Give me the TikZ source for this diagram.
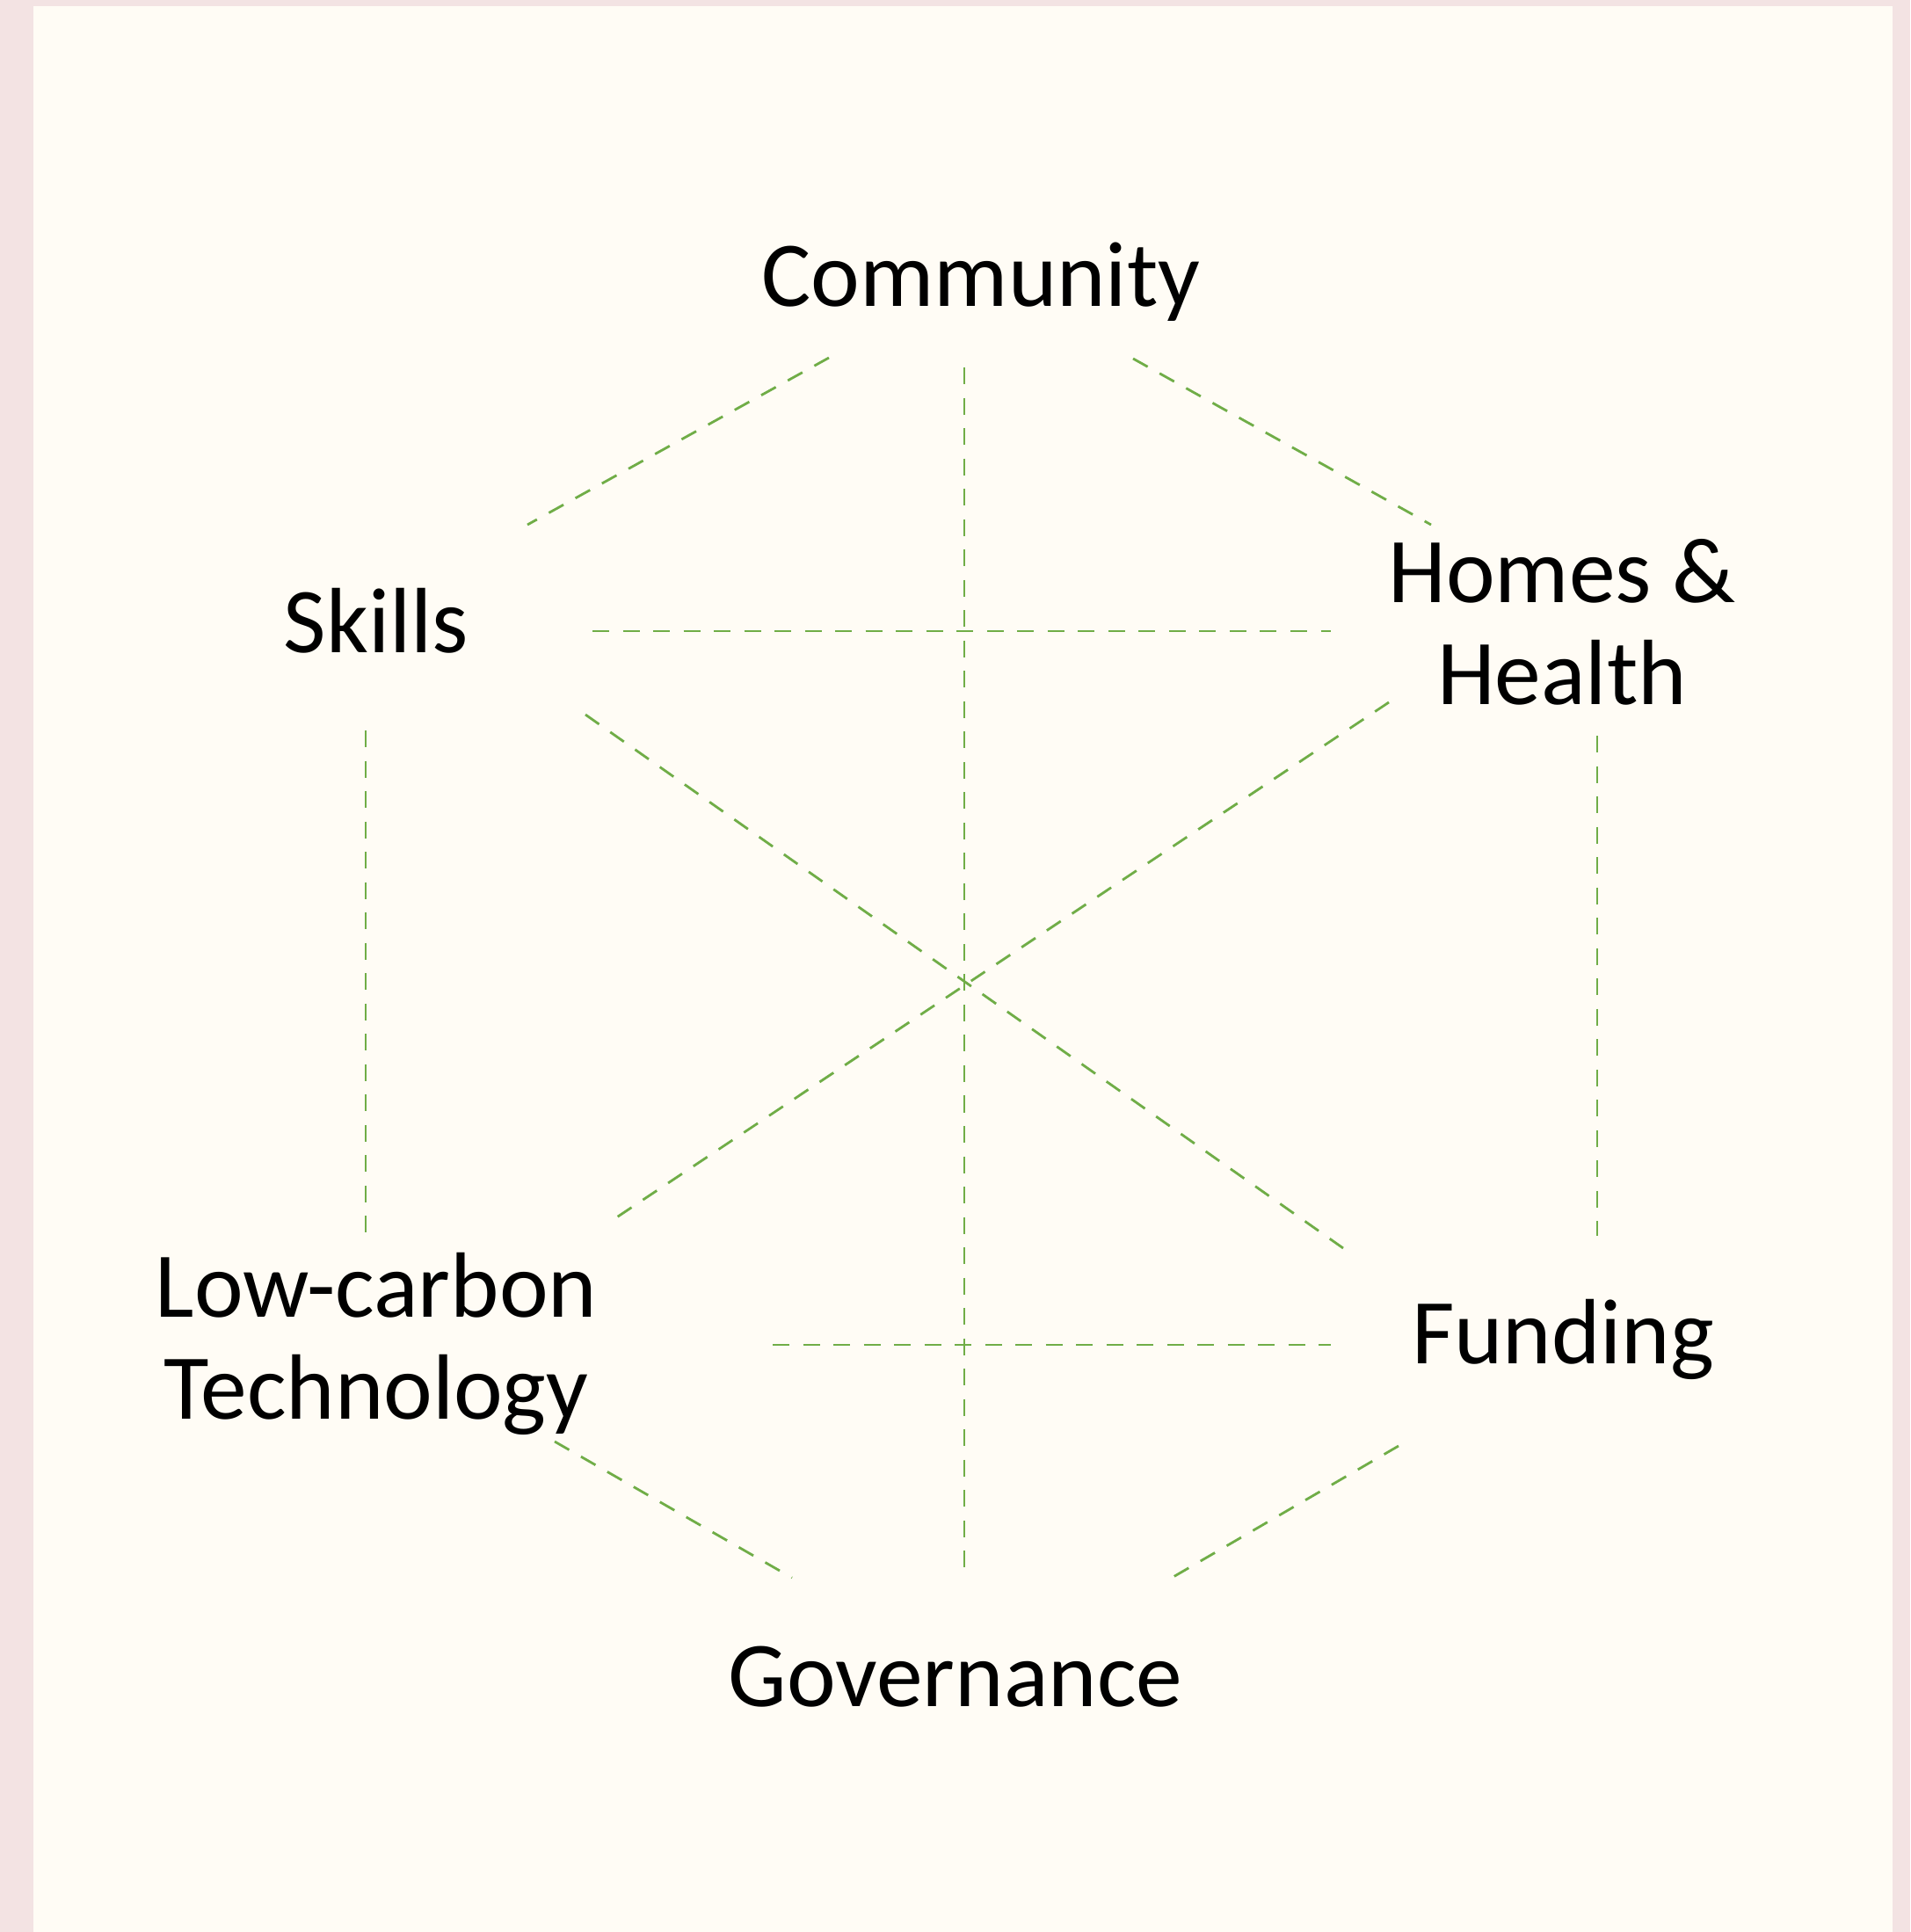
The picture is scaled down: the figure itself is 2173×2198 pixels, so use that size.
\documentclass[tikz,border=0pt]{standalone}
\usepackage{fontspec}
\setmainfont{Carlito}
\usepackage{tikz}
\usetikzlibrary{positioning}
\definecolor{FramePink}{HTML}{F3E3E3}
\definecolor{PaperCream}{HTML}{FFFCF5}
\definecolor{LinkGreen}{HTML}{70AD47}

\begin{document}
\begin{tikzpicture}[x=0.01cm, y=-0.01cm,
  every node/.style={font=\fontsize{30}{32.8}\selectfont, align=center, anchor=base, inner sep=0pt},
  link/.style={LinkGreen, line width=0.8pt, dash pattern=on 0.19cm off 0.155cm}]
  \fill[FramePink] (0,0) rectangle (2173,2198);
  \fill[PaperCream] (38,7) rectangle (2153,2198);
  \useasboundingbox (0,0) rectangle (2173,2198);
  % labels
  \node (comm) at (1116,349) {Community};
  \node (skills) at (428,742) {Skills};
  \node (homes) at (1777,801) {Homes \&\\Health};
  \node (lowc) at (428,1614) {Low-carbon\\Technology};
  \node (fund) at (1778,1551) {Funding};
  \node (gov) at (1087,1941) {Governance};
  % connector ends
  \coordinate (comm-l) at (943,407);
  \coordinate (comm-r) at (1289,408);
  \coordinate (comm-b) at (1097,418);
  \coordinate (skills-t) at (600,597);
  \coordinate (skills-r) at (674,718);
  \coordinate (skills-d) at (666,813);
  \coordinate (skills-b) at (416,831);
  \coordinate (homes-t) at (1628,597);
  \coordinate (homes-l) at (1514,718);
  \coordinate (homes-d) at (1580,799);
  \coordinate (homes-b) at (1817,837);
  \coordinate (lowc-t) at (416,1406);
  \coordinate (lowc-u) at (691,1392);
  \coordinate (lowc-r) at (879,1530);
  \coordinate (lowc-b) at (631,1640);
  \coordinate (fund-t) at (1817,1406);
  \coordinate (fund-u) at (1528,1420);
  \coordinate (fund-l) at (1514,1530);
  \coordinate (fund-b) at (1591,1645);
  \coordinate (gov-t) at (1097,1788);
  \coordinate (gov-l) at (901,1795);
  \coordinate (gov-r) at (1333,1795);
  % links
  \draw[link] (comm-l) -- (skills-t);
  \draw[link] (comm-r) -- (homes-t);
  \draw[link] (comm-b) -- (gov-t);
  \draw[link] (skills-r) -- (homes-l);
  \draw[link] (skills-d) -- (fund-u);
  \draw[link] (homes-d) -- (lowc-u);
  \draw[link] (skills-b) -- (lowc-t);
  \draw[link] (homes-b) -- (fund-t);
  \draw[link] (lowc-r) -- (fund-l);
  \draw[link] (lowc-b) -- (gov-l);
  \draw[link] (fund-b) -- (gov-r);
\end{tikzpicture}
\end{document}
